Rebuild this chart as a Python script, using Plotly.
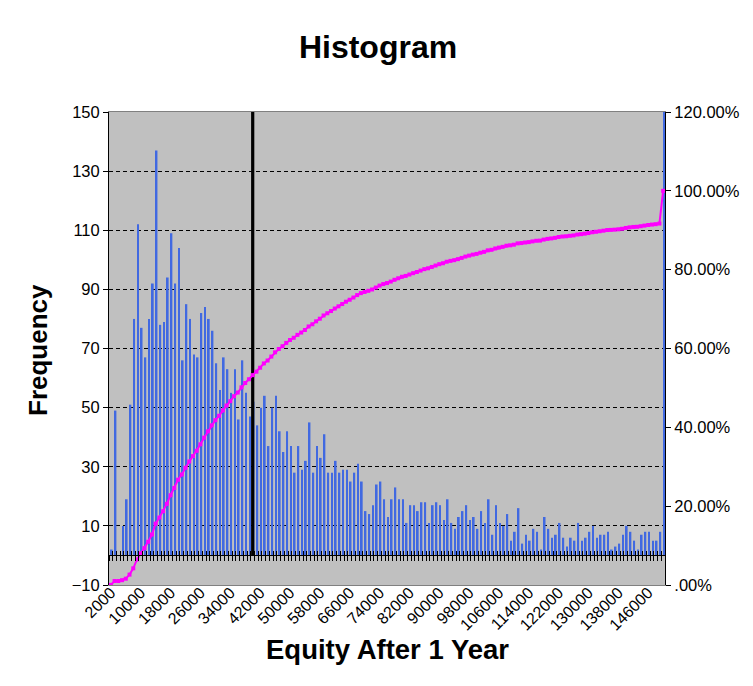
import plotly.graph_objects as go

# ---------------- data ----------------
bins = [str(b) for b in range(2000, 150000, 1000)] + ["More"]

frequency = [
    2, 49, 0, 10, 19, 51, 80, 112, 77, 67,
    80, 92, 137, 78, 79, 94, 109, 92, 104, 66,
    85, 80, 68, 67, 82, 84, 80, 76, 65, 56,
    67, 63, 55, 63, 46, 66, 55, 47, 52, 44,
    50, 54, 37, 50, 54, 42, 35, 42, 37, 28,
    37, 29, 32, 45, 28, 37, 33, 41, 28, 28,
    32, 28, 29, 29, 25, 28, 31, 25, 15, 14,
    17, 24, 25, 19, 13, 19, 23, 19, 19, 11,
    17, 17, 15, 18, 18, 11, 17, 18, 17, 12,
    19, 11, 9, 13, 15, 17, 12, 13, 9, 15,
    11, 19, 7, 17, 11, 10, 14, 5, 8, 16,
    4, 7, 5, 9, 8, 2, 13, 9, 6, 7,
    11, 6, 3, 6, 5, 11, 5, 6, 8, 10,
    6, 7, 7, 8, 2, 3, 4, 7, 10, 8,
    5, 2, 7, 8, 8, 5, 5, 8,
    414,
]

cumulative_pct = [
    0.04, 1.02, 1.02, 1.22, 1.60, 2.63, 4.23, 6.48, 8.02, 9.36,
    10.97, 12.81, 15.56, 17.12, 18.71, 20.59, 22.78, 24.62, 26.71, 28.03,
    29.74, 31.34, 32.70, 34.05, 35.69, 37.38, 38.98, 40.51, 41.81, 42.93,
    44.28, 45.54, 46.64, 47.90, 48.83, 50.15, 51.25, 52.20, 53.24, 54.12,
    55.12, 56.21, 56.95, 57.95, 59.03, 59.88, 60.58, 61.42, 62.16, 62.72,
    63.46, 64.05, 64.69, 65.59, 66.15, 66.89, 67.56, 68.38, 68.94, 69.50,
    70.14, 70.70, 71.28, 71.87, 72.37, 72.93, 73.55, 74.05, 74.35, 74.63,
    74.97, 75.46, 75.96, 76.34, 76.60, 76.98, 77.44, 77.82, 78.20, 78.42,
    78.76, 79.11, 79.41, 79.77, 80.13, 80.35, 80.69, 81.05, 81.39, 81.63,
    82.01, 82.23, 82.41, 82.67, 82.98, 83.32, 83.56, 83.82, 84.00, 84.30,
    84.52, 84.90, 85.04, 85.38, 85.60, 85.80, 86.08, 86.18, 86.34, 86.67,
    86.75, 86.89, 86.99, 87.17, 87.33, 87.37, 87.63, 87.81, 87.93, 88.07,
    88.29, 88.41, 88.47, 88.59, 88.69, 88.91, 89.01, 89.13, 89.29, 89.49,
    89.61, 89.75, 89.89, 90.05, 90.09, 90.15, 90.23, 90.37, 90.58, 90.74,
    90.84, 90.88, 91.02, 91.18, 91.34, 91.44, 91.54, 91.70,
    100.00,
]

marker_bin = ["40000"]
marker_height = [150]

x_tick_labels = bins[0:148:8]
left_ticks = [-10, 10, 30, 50, 70, 90, 110, 130, 150]
right_ticks = [0, 20, 40, 60, 80, 100, 120]
right_tick_text = [".00%", "20.00%", "40.00%", "60.00%", "80.00%", "100.00%", "120.00%"]

# ---------------- layout constants ----------------
# the page body adds an 8px margin, so the figure is placed at (8, 8) in the window
OFF = 8
W, H = 737, 670
PLOT_X0, PLOT_X1, PLOT_Y0, PLOT_Y1 = 109 - OFF, 665 - OFF, 112 - OFF, 585 - OFF
L, R, T, B = PLOT_X0, W - PLOT_X1, PLOT_Y0, H - PLOT_Y1
PW, PH = W - L - R, H - T - B
FONT = "Liberation Sans, Arial, sans-serif"
BAR_BLUE = "#4169E1"
MAGENTA = "#FF00FF"
y_lo, y_hi = -10, 150
zero_pos = (0 - y_lo) / (y_hi - y_lo)
x_range = [-0.5, len(bins) - 0.5]

fig = go.Figure()

fig.add_trace(go.Bar(
    x=bins, y=frequency, marker=dict(color=BAR_BLUE, line=dict(width=0)),
    offset=0.02, width=0.46, xaxis="x", yaxis="y", hoverinfo="x+y",
))
fig.add_trace(go.Bar(
    x=marker_bin, y=marker_height, marker=dict(color="#000000", line=dict(width=0)),
    offset=-0.42, width=0.86, xaxis="x", yaxis="y", hoverinfo="skip",
))
fig.add_trace(go.Scatter(
    x=bins, y=cumulative_pct, mode="lines+markers",
    line=dict(color=MAGENTA, width=2),
    marker=dict(symbol="square", size=4, color=MAGENTA),
    xaxis="x", yaxis="y2", hoverinfo="x+y",
))
# helper traces so the y=0 category axes know the categories
for ax in ("x2", "x3"):
    fig.add_trace(go.Scatter(
        x=bins, y=[0] * len(bins), mode="markers", marker=dict(opacity=0, size=1),
        xaxis=ax, yaxis="y", hoverinfo="skip",
    ))

cat_common = dict(type="category", categoryorder="array", categoryarray=bins, range=x_range)

fig.update_layout(
    width=W, height=H,
    margin=dict(l=L, r=R, t=T, b=B, pad=0, autoexpand=False),
    paper_bgcolor="white", plot_bgcolor="#C0C0C0",
    showlegend=False, barmode="overlay",
    font=dict(family=FONT, color="black"),
    title=dict(text="<b>Histogram</b>", font=dict(size=32, family=FONT, color="black"),
               x=(378 - OFF) / W, xanchor="center", xref="container",
               y=1 - (47 - OFF) / H, yanchor="middle", yref="container"),
    xaxis=dict(
        **cat_common,
        tickmode="array", tickvals=x_tick_labels, ticktext=x_tick_labels,
        tickangle=-45, tickfont=dict(size=16, family=FONT, color="black"),
        ticklabelstandoff=-9,
        ticks="", showgrid=False, zeroline=False,
        showline=True, linecolor="#808080", linewidth=1, mirror=True,
    ),
    xaxis2=dict(
        **cat_common, overlaying="x", anchor="free", position=zero_pos,
        showticklabels=False, ticks="outside", ticklen=5, tickwidth=1, tickcolor="black",
        tickson="boundaries", tickmode="linear", tick0=0, dtick=1,
        showgrid=False, zeroline=False, showline=True, linecolor="black", linewidth=1,
    ),
    xaxis3=dict(
        **cat_common, overlaying="x", anchor="free", position=zero_pos,
        showticklabels=False, ticks="inside", ticklen=4, tickwidth=1, tickcolor="black",
        tickson="boundaries", tickmode="linear", tick0=0, dtick=1,
        showgrid=False, zeroline=False, showline=False,
    ),
    yaxis=dict(
        range=[y_lo, y_hi], tickmode="array", tickvals=left_ticks,
        tickfont=dict(size=16.5, family=FONT, color="black"),
        ticks="outside", ticklen=5, tickcolor="black",
        showgrid=True, gridcolor="black", gridwidth=1, griddash="4px,3px",
        zeroline=False, showline=True, linecolor="black", linewidth=1,
    ),
    yaxis2=dict(
        range=[0, 120], overlaying="y", side="right", anchor="x",
        tickmode="array", tickvals=right_ticks, ticktext=right_tick_text,
        tickfont=dict(size=16.5, family=FONT, color="black"),
        ticks="outside", ticklen=5, tickcolor="black",
        showgrid=False, zeroline=False, showline=True, linecolor="black", linewidth=1,
    ),
    annotations=[
        dict(text="<b>Frequency</b>", textangle=-90, showarrow=False,
             xref="paper", yref="paper",
             x=(38 - OFF - L) / PW, y=(H - B - (350 - OFF)) / PH,
             xanchor="center", yanchor="middle",
             font=dict(size=26, family=FONT, color="black")),
        dict(text="<b>Equity After 1 Year</b>", showarrow=False,
             xref="paper", yref="paper",
             x=(387 - OFF - L) / PW, y=(H - B - (649 - OFF)) / PH,
             xanchor="center", yanchor="middle",
             font=dict(size=27.5, family=FONT, color="black")),
    ],
)

fig.write_html("out.html")
